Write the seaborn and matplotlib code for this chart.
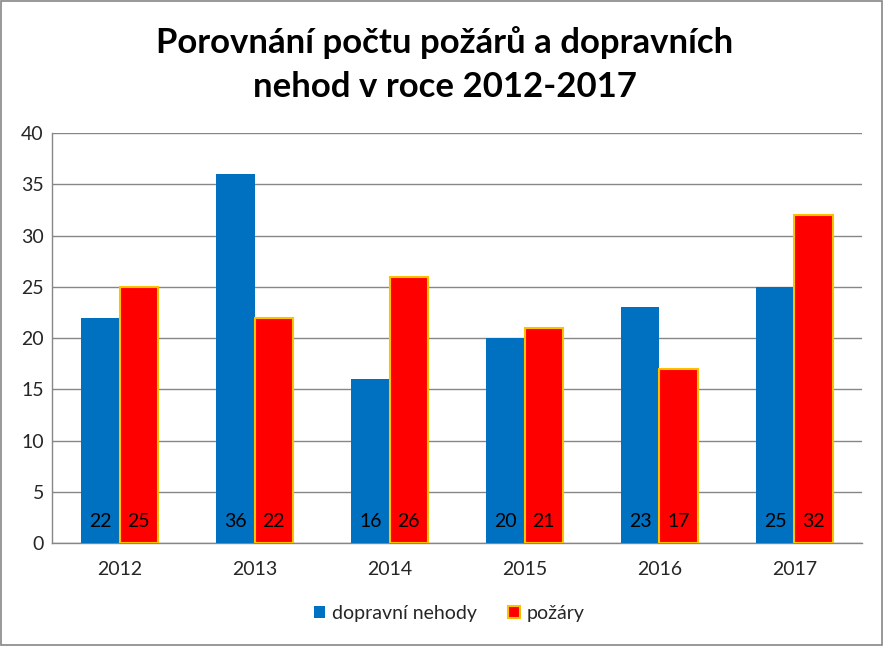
import matplotlib
matplotlib.use("Agg")
import matplotlib.pyplot as plt
import seaborn as sns
import pandas as pd

years = ["2012", "2013", "2014", "2015", "2016", "2017"]
nehody = [22, 36, 16, 20, 23, 25]
pozary = [25, 22, 26, 21, 17, 32]
series = ["dopravní nehody", "požáry"]

df = pd.DataFrame({
    "rok": years * 2,
    "pocet": nehody + pozary,
    "typ": [series[0]] * len(years) + [series[1]] * len(years),
})

sns.set_style("white")
plt.rcParams['font.family'] = ['Lato', 'DejaVu Sans']

fig = plt.figure(figsize=(8.84, 6.46), dpi=100)
ax = fig.add_axes([0.059, 0.1594, 0.916, 0.6346])

palette = {series[0]: "#0070C0", series[1]: "#FF0000"}
sns.barplot(data=df, x="rok", y="pocet", hue="typ", palette=palette,
            width=0.57, saturation=1, ax=ax, legend=False, zorder=3)

# red bars have a gold edge
for patch in ax.containers[1]:
    patch.set_edgecolor("#FFC000")
    patch.set_linewidth(1.5)
for patch in ax.containers[0]:
    patch.set_linewidth(0)

# values inside the bars near the bottom
for cont in ax.containers:
    for patch in cont:
        ax.text(patch.get_x() + patch.get_width() / 2, 2.1, "%d" % patch.get_height(),
                ha="center", va="center", fontsize=14, color="black", zorder=5)

ax.set_ylim(0, 40)
ax.set_yticks(range(0, 41, 5))
ax.set_xlim(-0.5, 5.5)
ax.yaxis.grid(True, color="#868686", linewidth=1, zorder=0)
ax.set_axisbelow(True)
ax.tick_params(axis="both", labelsize=14, length=0, pad=6)
ax.tick_params(axis="x", pad=13)
ax.set_xlabel("")
ax.set_ylabel("")
for s in ["top", "right"]:
    ax.spines[s].set_visible(False)
for s in ["left", "bottom"]:
    ax.spines[s].set_color("#868686")
    ax.spines[s].set_linewidth(1)

fig.text(0.503, 0.9, "Porovnání počtu požárů a dopravních\nnehod v roce 2012-2017",
         ha="center", va="center", fontsize=25, fontweight="bold", linespacing=1.45,
         color="black")

handles = [
    plt.Rectangle((0, 0), 1, 1, facecolor="#0070C0", edgecolor="none"),
    plt.Rectangle((0, 0), 1, 1, facecolor="#FF0000", edgecolor="#FFC000", linewidth=1.5),
]
fig.legend(handles, series, loc="center", bbox_to_anchor=(0.508, 0.051), ncol=2,
           frameon=False, fontsize=14, handlelength=0.6, handleheight=0.6,
           handletextpad=0.35, columnspacing=1.6)

# gray frame around the whole chart
fig.patches.append(plt.Rectangle((0.001, 0.002), 0.997, 0.996, transform=fig.transFigure,
                                 fill=False, edgecolor="#868686", linewidth=1.2))

fig.savefig("out.png", dpi=100)
